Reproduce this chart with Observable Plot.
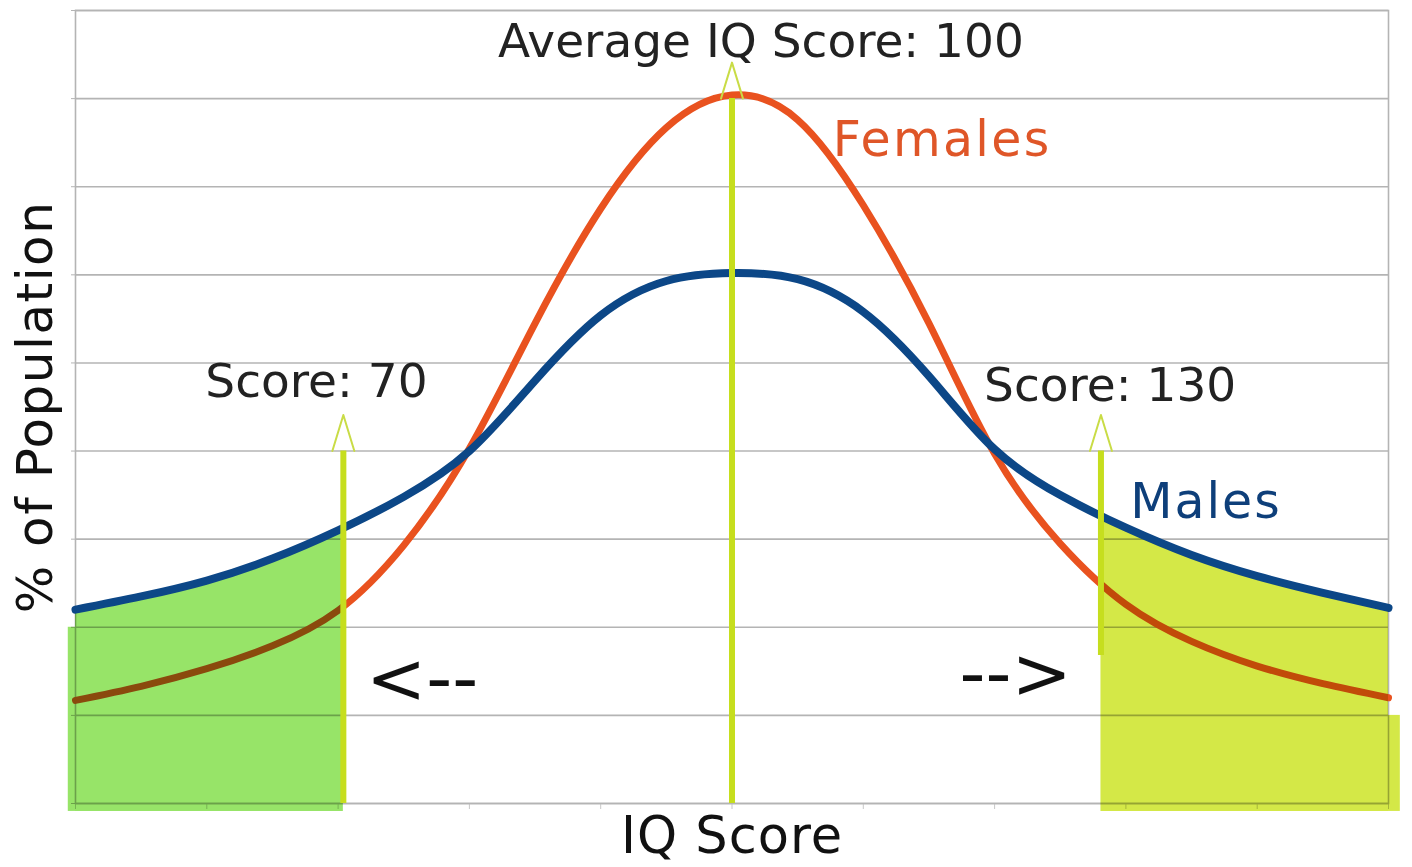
<!DOCTYPE html>
<html>
<head>
<meta charset="utf-8">
<script src="https://cdn.jsdelivr.net/npm/d3@7"></script>
<script src="https://cdn.jsdelivr.net/npm/@observablehq/plot@0.6"></script>
<style>
  html, body { margin: 0; padding: 0; background: #ffffff; }
  #chart { position: absolute; left: 0; top: 0; }
</style>
</head>
<body>
<div id="chart"></div>
<script>
// ---- data (y in grid units, 9 gridline bands) ----
const iq      = [50, 55, 60, 65, 70, 75, 80, 85, 90, 95, 100, 105, 110, 115, 120, 125, 130, 135, 140, 145, 150];
const females = [1.17, 1.33, 1.53, 1.79, 2.19, 2.93, 4.03, 5.45, 6.75, 7.67, 8.04, 7.76, 6.79, 5.45, 3.97, 2.95, 2.26, 1.84, 1.56, 1.36, 1.20];
const males   = [2.20, 2.35, 2.53, 2.78, 3.10, 3.48, 4.00, 4.80, 5.54, 5.93, 6.02, 5.95, 5.58, 4.85, 4.02, 3.50, 3.13, 2.82, 2.58, 2.39, 2.22];

const xTicks = [50, 60, 70, 80, 90, 100, 110, 120, 130, 140, 150];
const yTicks = [0, 1, 2, 3, 4, 5, 6, 7, 8, 9];

// arrows (score lines)
const arrowScores  = [70.4, 100, 128.1];
const arrowBottoms = [0, 0, 1.68];
const arrowTops    = [4.0, 8.0, 4.0];

// shaded tails: cut points and male value at the cut
const leftCut = 70.4,  leftCutMale = 3.12;
const rightCut = 128.1, rightCutMale = 3.26;

// annotation texts
const noteTexts = ["Score: 70", "Average IQ Score: 100", "Score: 130"];
const noteX     = [68.35, 102.2, 128.8];
const noteY     = [4.78, 8.64, 4.74];
const seriesLabels = ["Females", "Males"];
const seriesLabelX = [116.0, 136.1];
const seriesLabelY = [7.53, 3.42];
const arrowTexts = ["<--", "-->"];
const arrowTextX = [76.4, 121.6];
const arrowTextY = [1.40, 1.46];

// ---- tables ----
const femaleRows = iq.map((v, i) => ({iq: v, v: females[i]}));
const maleRows   = iq.map((v, i) => ({iq: v, v: males[i]}));
const leftFill  = [...maleRows.filter(d => d.iq <= 70), {iq: leftCut, v: leftCutMale}];
const rightFill = [{iq: rightCut, v: rightCutMale}, ...maleRows.filter(d => d.iq >= 130)];
const arrows = arrowScores.map((s, i) => ({score: s, bottom: arrowBottoms[i], top: arrowTops[i]}));
const notes = noteTexts.map((t, i) => ({t, x: noteX[i], y: noteY[i]}));
const sLabels = seriesLabels.map((t, i) => ({t, x: seriesLabelX[i], y: seriesLabelY[i]}));
const aTexts = arrowTexts.map((t, i) => ({t, x: arrowTextX[i], y: arrowTextY[i]}));
const leftBlock  = [{x1: 49.45, x2: 50, y1: -0.09, y2: 2.0}];
const rightBlock = [{x1: 150, x2: 150.9, y1: -0.09, y2: 1.0}];

const caret = {
  draw(context, l, r) {
    context.moveTo(-r, 0);
    context.lineTo(0, -l);
    context.lineTo(r, 0);
  }
};

const BLUE = "#0c4787";
const RED = "#e9521f";
const ARROW = "#c6de1e";
const GRID = "#b4b4b4";
const GREEN = "#97e468";
const YELLOW = "#d4e847";

const chart = Plot.plot({
  width: 1412,
  height: 867,
  marginLeft: 75,
  marginRight: 24,
  marginTop: 10,
  marginBottom: 64,
  x: {domain: [50, 150]},
  y: {domain: [0, 9]},
  style: {fontFamily: "DejaVu Sans", background: "#ffffff"},
  marks: [
    Plot.gridY(yTicks, {stroke: GRID, strokeOpacity: 1, strokeWidth: 1.6}),
    Plot.axisY({ticks: yTicks, tickFormat: () => "", tickSize: 4, stroke: GRID, label: null}),
    Plot.axisX({ticks: xTicks, tickFormat: () => "", tickSize: 6, stroke: "#c8c8c8", label: null}),
    Plot.frame({stroke: GRID, strokeWidth: 1.6}),
    Plot.line(femaleRows, {x: "iq", y: "v", stroke: RED, strokeWidth: 7, curve: "natural"}),
    // shaded tails (multiplied over the grid and the female curve)
    Plot.areaY(leftFill, {x: "iq", y1: -0.09, y2: "v", fill: GREEN, curve: "natural", mixBlendMode: "multiply", clip: false}),
    Plot.rect(leftBlock, {x1: "x1", x2: "x2", y1: "y1", y2: "y2", fill: GREEN, mixBlendMode: "multiply", clip: false}),
    Plot.areaY(rightFill, {x: "iq", y1: -0.09, y2: "v", fill: YELLOW, curve: "natural", mixBlendMode: "multiply", clip: false}),
    Plot.rect(rightBlock, {x1: "x1", x2: "x2", y1: "y1", y2: "y2", fill: YELLOW, mixBlendMode: "multiply", clip: false}),
    Plot.line(maleRows, {x: "iq", y: "v", stroke: BLUE, strokeWidth: 8, curve: "natural"}),
    // score arrows
    Plot.ruleX(arrows, {x: "score", y1: "bottom", y2: "top", stroke: ARROW, strokeWidth: 6}),
    Plot.vector(arrows, {x: "score", y: "top", length: 36, r: 11, anchor: "start", shape: caret, stroke: "#c9dc46", strokeWidth: 2}),
    // texts
    Plot.text(notes, {x: "x", y: "y", text: "t", fontSize: 47, fill: "#222222", textAnchor: "middle", lineAnchor: "middle"}),
    Plot.text(sLabels, {x: "x", y: "y", text: "t", fontSize: 49, fill: d => d.t === "Females" ? "#df5628" : "#0e3f7a", textAnchor: "middle", lineAnchor: "middle"}),
    Plot.text(aTexts, {x: "x", y: "y", text: "t", fontSize: 72, fill: "#111111", textAnchor: "middle", lineAnchor: "middle"}),
    Plot.text(["IQ Score"], {frameAnchor: "bottom", dy: 33, text: d => d, fontSize: 51, fill: "#111111", textAnchor: "middle", lineAnchor: "middle"}),
    Plot.text(["% of Population"], {frameAnchor: "left", dx: -40, rotate: -90, text: d => d, fontSize: 50, fill: "#111111", textAnchor: "middle", lineAnchor: "middle"})
  ]
});

// slight letter spacing to match the wider lettering of the original
const spacing = {"Females": 2.3, "Males": 2, "IQ Score": 1, "% of Population": 1.5};
d3.select(chart).selectAll("text").each(function () {
  const s = spacing[this.textContent];
  if (s) this.style.letterSpacing = s + "px";
});

document.getElementById("chart").appendChild(chart);
</script>
</body>
</html>
